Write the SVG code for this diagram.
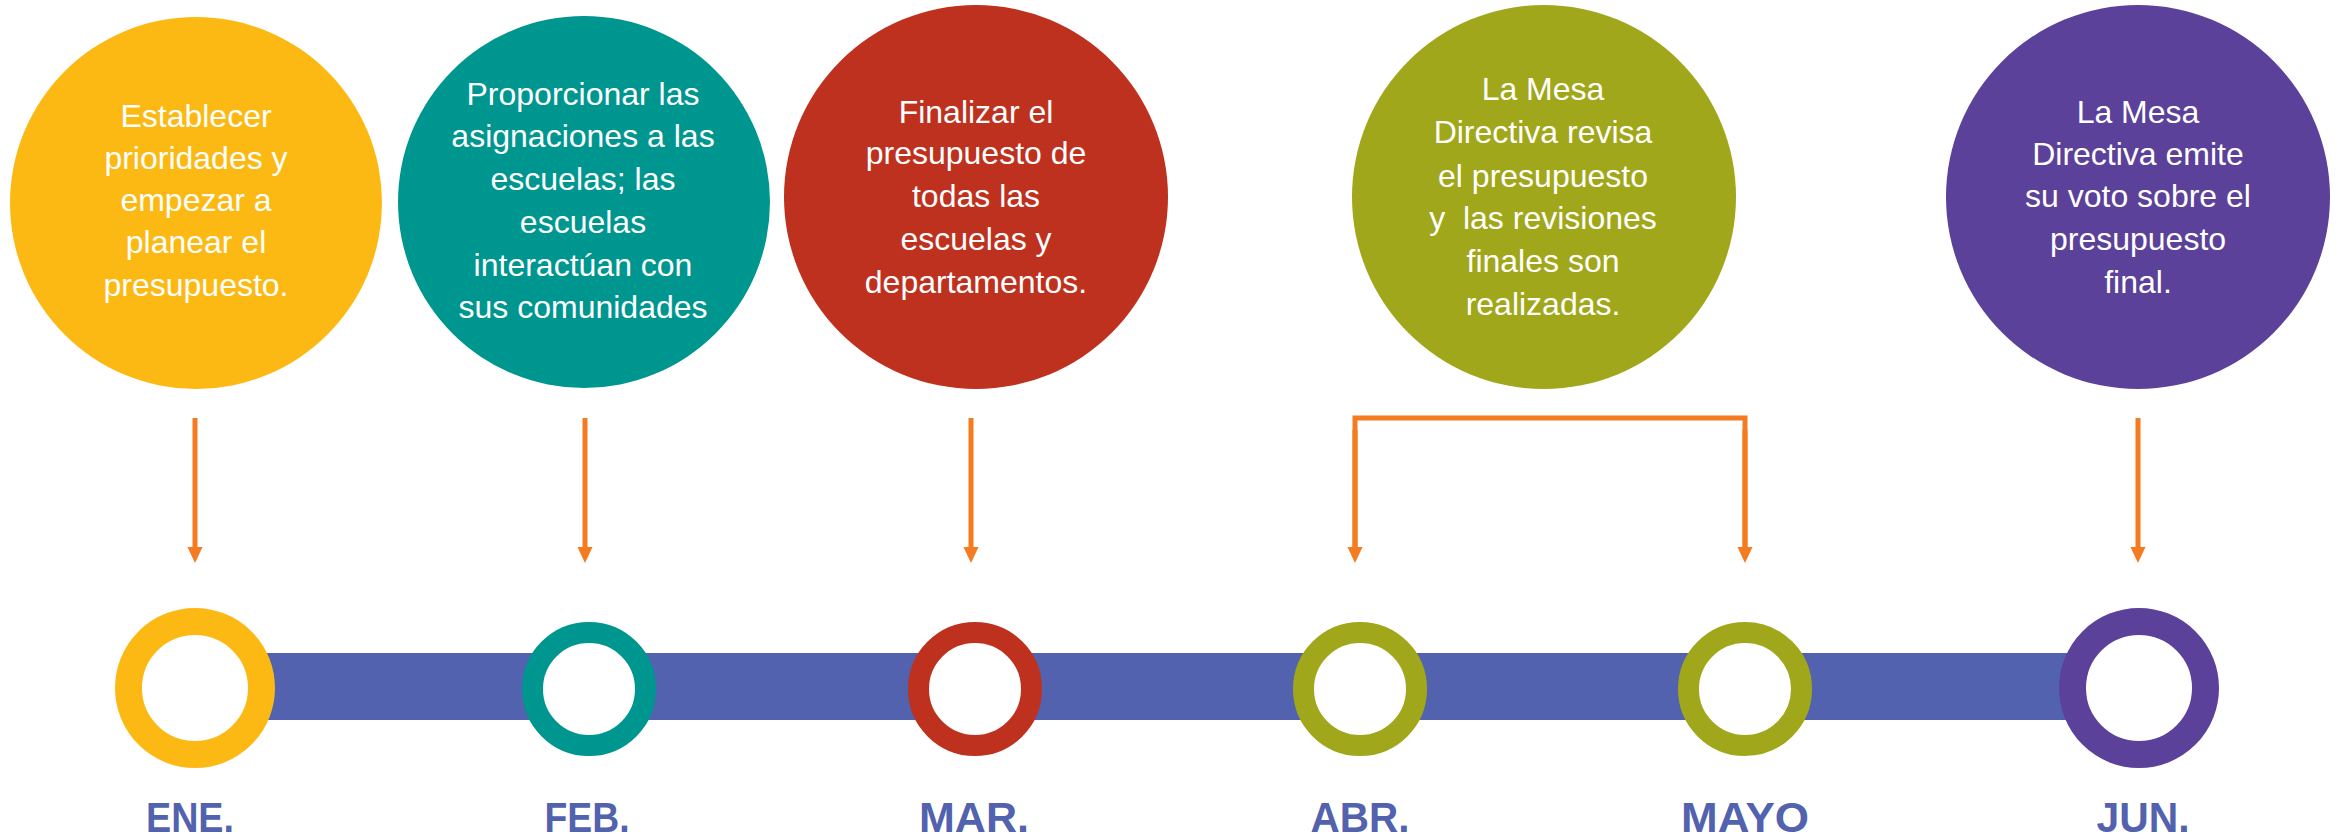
<svg xmlns="http://www.w3.org/2000/svg" width="2341" height="839" viewBox="0 0 2341 839">
<defs>
<style>
.txt{font-family:"Liberation Sans",Arial,sans-serif;font-size:32px;fill:#FFFFFF;text-anchor:middle}
.mon{font-family:"Liberation Sans",Arial,sans-serif;font-size:42px;font-weight:bold;fill:#5262AE;text-anchor:middle}
.conn{stroke:#F47B20;stroke-width:5;fill:none}
.big{fill:#FFFFFF;stroke-width:27}
.small{fill:#FFFFFF;stroke-width:21}
</style>
<marker id="arr" markerUnits="userSpaceOnUse" markerWidth="16" markerHeight="17" refX="0" refY="8" orient="auto" viewBox="0 0 17 16">
<path d="M0,0 L17,8 L0,16 Z" fill="#F47B20"/>
</marker>
</defs>
<rect width="2341" height="839" fill="#FFFFFF"/>
<rect id="bar" x="195" y="653" width="1944" height="67" fill="#5262AE"/>
<g id="connectors">
<line class="conn" x1="195" y1="418" x2="195" y2="547" marker-end="url(#arr)"/>
<line class="conn" x1="585" y1="418" x2="585" y2="547" marker-end="url(#arr)"/>
<line class="conn" x1="971" y1="418" x2="971" y2="547" marker-end="url(#arr)"/>
<polyline class="conn" points="1355,547 1355,418 1745,418 1745,547" stroke-linejoin="miter"/>
<line class="conn" x1="1355" y1="430" x2="1355" y2="547" marker-end="url(#arr)"/>
<line class="conn" x1="1745" y1="430" x2="1745" y2="547" marker-end="url(#arr)"/>
<line class="conn" x1="2138" y1="418" x2="2138" y2="547" marker-end="url(#arr)"/>
</g>
<g id="ene">
<circle cx="196" cy="203" r="186" fill="#FDB913"/>
<text class="txt"><tspan x="196" y="127">Establecer</tspan><tspan x="196" y="169">prioridades y</tspan><tspan x="196" y="211">empezar a</tspan><tspan x="196" y="253">planear el</tspan><tspan x="196" y="296">presupuesto.</tspan></text>
<circle class="big" cx="195" cy="688" r="66.5" stroke="#FDB913"/>
<text class="mon" x="190" y="832" textLength="88" lengthAdjust="spacingAndGlyphs">ENE.</text>
</g>
<g id="feb">
<circle cx="584" cy="202" r="186" fill="#009690"/>
<text class="txt"><tspan x="583" y="105">Proporcionar las</tspan><tspan x="583" y="147">asignaciones a las</tspan><tspan x="583" y="190">escuelas; las</tspan><tspan x="583" y="233">escuelas</tspan><tspan x="583" y="276">interactúan con</tspan><tspan x="583" y="318">sus comunidades</tspan></text>
<circle class="small" cx="589" cy="689" r="56.5" stroke="#009690"/>
<text class="mon" x="587" y="832" textLength="85" lengthAdjust="spacingAndGlyphs">FEB.</text>
</g>
<g id="mar">
<circle cx="976" cy="197" r="192" fill="#BE311E"/>
<text class="txt"><tspan x="976" y="123">Finalizar el</tspan><tspan x="976" y="164">presupuesto de</tspan><tspan x="976" y="207">todas las</tspan><tspan x="976" y="250">escuelas y</tspan><tspan x="976" y="293">departamentos.</tspan></text>
<circle class="small" cx="975" cy="689" r="56.5" stroke="#BE311E"/>
<text class="mon" x="974" y="832" textLength="110" lengthAdjust="spacingAndGlyphs">MAR.</text>
</g>
<g id="abr-mayo">
<circle cx="1544" cy="197" r="192" fill="#A1A71B"/>
<text class="txt"><tspan x="1543" y="100">La Mesa</tspan><tspan x="1543" y="143">Directiva revisa</tspan><tspan x="1543" y="187">el presupuesto</tspan><tspan x="1543" y="229">y&#160; las revisiones</tspan><tspan x="1543" y="272">finales son</tspan><tspan x="1543" y="315">realizadas.</tspan></text>
</g>
<g id="abr">
<circle class="small" cx="1360" cy="689" r="56.5" stroke="#A1A71B"/>
<text class="mon" x="1360" y="832" textLength="99" lengthAdjust="spacingAndGlyphs">ABR.</text>
</g>
<g id="mayo">
<circle class="small" cx="1745" cy="689" r="56.5" stroke="#A1A71B"/>
<text class="mon" x="1745" y="832" textLength="128" lengthAdjust="spacingAndGlyphs">MAYO</text>
</g>
<g id="jun">
<circle cx="2138" cy="197" r="192" fill="#5B4199"/>
<text class="txt"><tspan x="2138" y="123">La Mesa</tspan><tspan x="2138" y="165">Directiva emite</tspan><tspan x="2138" y="207">su voto sobre el</tspan><tspan x="2138" y="250">presupuesto</tspan><tspan x="2138" y="293">final.</tspan></text>
<circle class="big" cx="2139" cy="688" r="66.5" stroke="#5B4199"/>
<text class="mon" x="2143" y="832" textLength="93" lengthAdjust="spacingAndGlyphs">JUN.</text>
</g>
</svg>
